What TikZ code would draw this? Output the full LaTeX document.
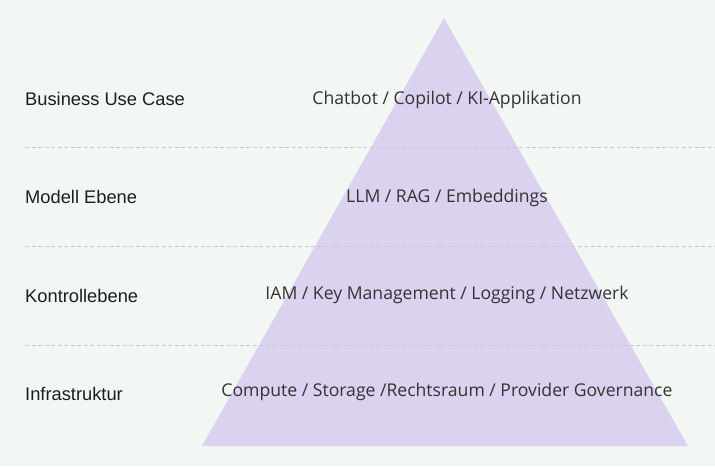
\documentclass[tikz,border=0pt]{standalone}
\usepackage{fontspec}
\setmainfont{Open Sans}
\newfontfamily\labelfont{Liberation Sans}
\usepackage{tikz}
\definecolor{bgcol}{HTML}{F3F7F4}
\definecolor{pyrcol}{HTML}{DBD2F0}
\definecolor{txtcol}{HTML}{333333}
\definecolor{lblcol}{HTML}{1E1E1E}
\definecolor{sepcol}{HTML}{C8CAC8}
\tikzset{
  layer/.style={anchor=west, text=lblcol, font=\labelfont\fontsize{18.3}{21}\selectfont, inner sep=0pt},
  item/.style={text=txtcol, font=\fontsize{17.6}{20}\selectfont, inner sep=0pt},
  sep/.style={sepcol, dashed, dash pattern=on 4pt off 2.5pt, line width=0.6pt}
}

\begin{document}
\begin{tikzpicture}[x=1pt, y=-1pt]
      \fill[bgcol] (0,0) rectangle (715,466);
      \useasboundingbox (0,0) rectangle (715,466);
      \coordinate (apex) at (444,18);
      \coordinate (bl) at (202,446);
      \coordinate (br) at (688,446);
      \fill[pyrcol] (apex) -- (bl) -- (br) -- cycle;
      \coordinate (s1l) at (25,147);
      \coordinate (s1r) at (715,147);
      \coordinate (s2l) at (25,246);
      \coordinate (s2r) at (715,246);
      \coordinate (s3l) at (25,345);
      \coordinate (s3r) at (715,345);
      \draw[sep] (s1l) -- (s1r);
      \draw[sep] (s2l) -- (s2r);
      \draw[sep] (s3l) -- (s3r);
      \node[layer] (business) at (25,99) {Business Use Case};
      \node[layer] (modell) at (25,197) {Modell Ebene};
      \node[layer] (kontrolle) at (25,296) {Kontrollebene};
      \node[layer] (infra) at (25,394) {Infrastruktur};
      \node[item] (chatbot) at (447,99.5) {Chatbot / Copilot / KI-Applikation};
      \node[item] (llm) at (447,197.5) {LLM / RAG / Embeddings};
      \node[item] (iam) at (447,294.5) {IAM / Key Management / Logging / Netzwerk};
      \node[item] (compute) at (447,391.5) {Compute / Storage /Rechtsraum / Provider Governance};
    \end{tikzpicture}
\end{document}
